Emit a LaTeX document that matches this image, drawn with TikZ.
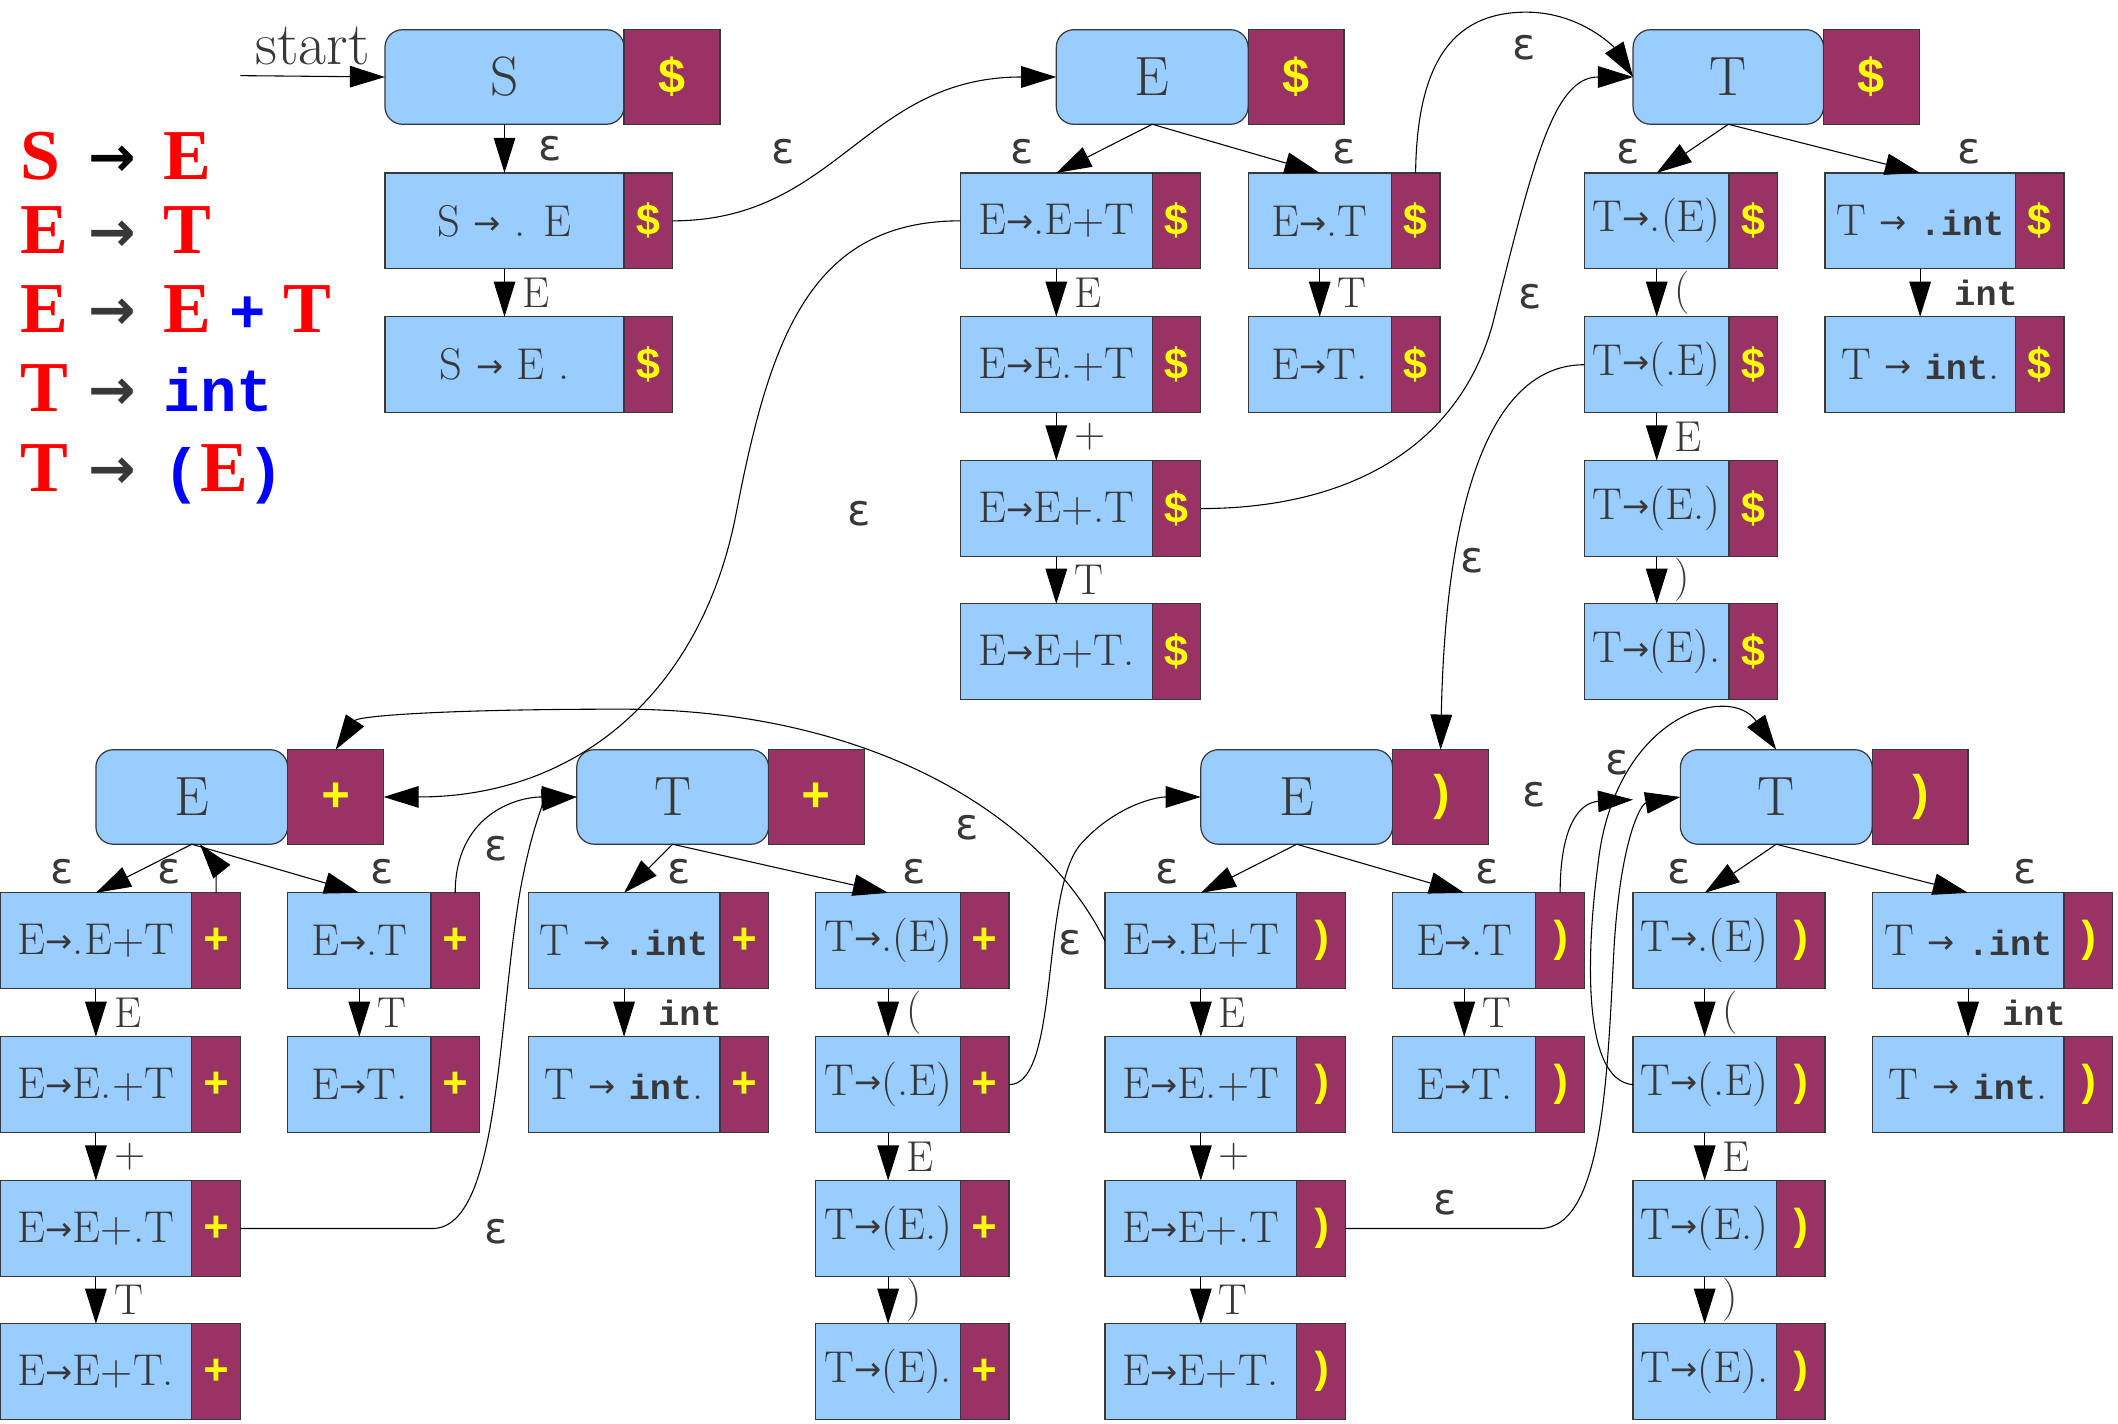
\documentclass[tikz,border=0pt]{standalone}
\usepackage{fontspec}
\usetikzlibrary{arrows.meta}
\newfontfamily\sansfam{DejaVu Sans}
\newfontfamily\monofam{Liberation Mono}
\newfontfamily\gramfam{Liberation Serif}
\definecolor{itemblue}{HTML}{99CCFF}
\definecolor{lamaroon}{HTML}{993366}
\definecolor{layellow}{HTML}{FFFF00}
\definecolor{txt}{HTML}{383838}
\definecolor{gred}{HTML}{FF0000}
\definecolor{gblue}{HTML}{0000FF}
\newcommand\itemfont{\fontsize{33}{38}\selectfont}
\newcommand\statefont{\fontsize{41}{46}\selectfont}
\newcommand\lafont{\monofam\bfseries\fontsize{32}{36}\selectfont}
\newcommand\lblfont{\fontsize{32}{36}\selectfont}
\newcommand\epsfont{\sansfam\fontsize{32}{36}\selectfont}
\newcommand\arw{\raisebox{1.5pt}{\sansfam\fontsize{24}{24}\selectfont →}}
\newcommand\kw[1]{{\monofam\bfseries\fontsize{26}{28}\selectfont #1}}
\newcommand\lhs[1]{\makebox[50pt][l]{\color{gred}#1}}
\newcommand\garrow[1][txt]{\makebox[56pt][l]{\color{#1}\sansfam\bfseries\fontsize{42}{42}\selectfont\raisebox{2pt}{→}}}
\newcommand\gmono[1]{{\color{gblue}\monofam\fontsize{45}{50}\selectfont #1}}
% item box + lookahead box
\newcommand\lritem[5]{%
  \node[itm, minimum width=#3pt] (#1) at (#2) {#4};
  \node[la] (#1x) at (#1.east) {#5};}
\newcommand\lrstate[5]{%
  \node[st, minimum width=#3pt] (#1) at (#2) {#4};
  \node[stla] (#1x) at (#1.east) {#5};}
% shift of the dot
\newcommand\trn[4][12pt]{%
  \draw[arr] (#2.south) -- (#3.north) node[lbl, midway, right=#1] (#3l) {#4};}

\begin{document}
\begin{tikzpicture}[
              x = 1pt, y = -1pt,
              itm/.style = {draw=txt, line width=0.9pt, fill=itemblue, minimum height=71pt,
                            inner sep=0pt, outer sep=0pt, text=txt, font=\itemfont},
              la/.style = {draw=txt, line width=0.9pt, fill=lamaroon, minimum height=71pt,
                           minimum width=36pt, inner sep=0pt, outer sep=0pt,
                           text=layellow, font=\lafont, anchor=west},
              st/.style = {itm, rounded corners=13pt, minimum height=70pt, font=\statefont},
              stla/.style = {la, minimum width=71pt, minimum height=70pt,
                             font=\monofam\bfseries\fontsize{36}{40}\selectfont},
              arr/.style = {-{Triangle[length=26pt,width=16pt]}, line width=0.8pt},
              lbl/.style = {font=\lblfont, text=txt, inner sep=1pt},
              eps/.style = {font=\epsfont, text=txt, inner sep=1pt},
              gram/.style = {anchor=base west, inner sep=0pt, font=\gramfam\bfseries\fontsize{53}{60}\selectfont}
            ]
\useasboundingbox (0,0) rectangle (1568,1054);

% grammar
\node[gram] (g1) at (15,133) {\lhs{S}\garrow[black]{\color{gred}E}};
\node[gram] (g2) at (15,188) {\lhs{E}\garrow{\color{gred}T}};
\node[gram] (g3) at (15,246) {\lhs{E}\garrow{\color{gred}E}\hspace{13pt}\gmono{+}\hspace{13pt}{\color{gred}T}};
\node[gram] (g4) at (15,305) {\lhs{T}\garrow\gmono{int}};
\node[gram] (g5) at (15,364) {\lhs{T}\garrow\gmono{(}{\color{gred}E}\gmono{)}};

% states with lookahead $
\coordinate (start) at (178,56);
\node[font=\fontsize{45}{50}\selectfont, text=txt, anchor=base west, inner sep=0pt] (startlbl) at (189,48) {start};
\lrstate{S0}{373.5,57}{177}{S}{\$}
\lritem{s1}{373.5,163.5}{177}{S \arw{} . E}{\$}
\lritem{s2}{373.5,270}{177}{S \arw{} E .}{\$}

\lrstate{E0}{853,57}{142}{E}{\$}
\lritem{a1}{782,163.5}{142}{E\arw.E+T}{\$}
\lritem{a2}{782,270}{142}{E\arw{}E.+T}{\$}
\lritem{a3}{782,376.5}{142}{E\arw{}E+.T}{\$}
\lritem{a4}{782,482.5}{142}{E\arw{}E+T.}{\$}
\lritem{b1}{977,163.5}{106}{E\arw.T}{\$}
\lritem{b2}{977,270}{106}{E\arw{}T.}{\$}

\lrstate{T0}{1279.5,57}{141}{T}{\$}
\lritem{c1}{1226.5,163.5}{107}{T\arw.(E)}{\$}
\lritem{c2}{1226.5,270}{107}{T\arw(.E)}{\$}
\lritem{c3}{1226.5,376.5}{107}{T\arw(E.)}{\$}
\lritem{c4}{1226.5,482.5}{107}{T\arw(E).}{\$}
\lritem{d1}{1421.5,163.5}{141}{T \arw{} \kw{.int}}{\$}
\lritem{d2}{1421.5,270}{141}{T \arw{} \kw{int}.}{\$}

% states with lookahead +
\lrstate{Ep}{142,590}{142}{E}{+}
\lritem{pa1}{71,696.5}{142}{E\arw.E+T}{+}
\lritem{pa2}{71,803}{142}{E\arw{}E.+T}{+}
\lritem{pa3}{71,909.5}{142}{E\arw{}E+.T}{+}
\lritem{pa4}{71,1015.5}{142}{E\arw{}E+T.}{+}
\lritem{pb1}{266,696.5}{106}{E\arw.T}{+}
\lritem{pb2}{266,803}{106}{E\arw{}T.}{+}

\lrstate{Tp}{498,590}{142}{T}{+}
\lritem{pd1}{462,696.5}{142}{T \arw{} \kw{.int}}{+}
\lritem{pd2}{462,803}{142}{T \arw{} \kw{int}.}{+}
\lritem{pc1}{657.5,696.5}{107}{T\arw.(E)}{+}
\lritem{pc2}{657.5,803}{107}{T\arw(.E)}{+}
\lritem{pc3}{657.5,909.5}{107}{T\arw(E.)}{+}
\lritem{pc4}{657.5,1015.5}{107}{T\arw(E).}{+}

% states with lookahead )
\lrstate{Er}{960,590}{142}{E}{)}
\lritem{ra1}{889,696.5}{142}{E\arw.E+T}{)}
\lritem{ra2}{889,803}{142}{E\arw{}E.+T}{)}
\lritem{ra3}{889,909.5}{142}{E\arw{}E+.T}{)}
\lritem{ra4}{889,1015.5}{142}{E\arw{}E+T.}{)}
\lritem{rb1}{1084,696.5}{106}{E\arw.T}{)}
\lritem{rb2}{1084,803}{106}{E\arw{}T.}{)}

\lrstate{Tr}{1315,590}{142}{T}{)}
\lritem{rc1}{1262,696.5}{106}{T\arw.(E)}{)}
\lritem{rc2}{1262,803}{106}{T\arw(.E)}{)}
\lritem{rc3}{1262,909.5}{106}{T\arw(E.)}{)}
\lritem{rc4}{1262,1015.5}{106}{T\arw(E).}{)}
\lritem{rd1}{1457,696.5}{142}{T \arw{} \kw{.int}}{)}
\lritem{rd2}{1457,803}{142}{T \arw{} \kw{int}.}{)}

% top part
\draw[arr] (start) -- (S0.west);
\draw[arr] (S0.south) -- (s1.north) node[eps, midway, right=24pt] (s1l) {ε};
\trn{s1}{s2}{E}
\draw[arr] (s1x.east) .. controls (620,163.5) and (640,57) .. (E0.west)
  node[eps] (e1) at (580,112) {ε};
\draw[arr] (E0.south) -- (a1.north) node[eps] (e2) at (757,112) {ε};
\draw[arr] (E0.south) -- (b1.north) node[eps] (e3) at (995,112) {ε};
\trn{a1}{a2}{E}
\trn{a2}{a3}{+}
\trn{a3}{a4}{T}
\trn{b1}{b2}{T}
\draw[arr] (b1x.north) .. controls (1049,40) and (1080,9) .. (1130,9)
  .. controls (1170,9) and (1195,35) .. (T0.west) node[eps] (e4) at (1128,35) {ε};
\draw[arr] (a3x.east) .. controls (1000,376.5) and (1080,330) .. (1105,240)
  .. controls (1135,120) and (1150,57) .. (T0.west) node[eps] (e5) at (1133,220) {ε};
\draw[arr] (a1.west) .. controls (600,163.5) and (570,250) .. (545,380)
  .. controls (520,510) and (430,590) .. (Epx.east) node[eps] (e6) at (636,380) {ε};
\draw[arr] (T0.south) -- (c1.north) node[eps] (e7) at (1205,112) {ε};
\draw[arr] (T0.south) -- (d1.north) node[eps] (e8) at (1458,112) {ε};
\trn{c1}{c2}{(}
\trn{c2}{c3}{E}
\trn{c3}{c4}{)}
\trn[24pt]{d1}{d2}{\kw{int}}
\draw[arr] (c2.west) .. controls (1100,270) and (1070,380) .. (Erx.north)
  node[eps] (e9) at (1090,415) {ε};

% bottom part, lookahead +
\draw[arr] (Ep.south) -- (pa1.north) node[eps] (e10) at (46,645) {ε};
\draw[arr] (pa1x.north) .. controls (160,640) .. ([xshift=6pt]Ep.south)
  node[eps] (e11) at (125,645) {ε};
\draw[arr] (Ep.south) -- (pb1.north) node[eps] (e12) at (283,645) {ε};
\trn{pa1}{pa2}{E}
\trn{pa2}{pa3}{+}
\trn{pa3}{pa4}{T}
\trn{pb1}{pb2}{T}
\draw[arr] (pb1x.north) .. controls (337,605) and (380,590) .. (Tp.west)
  node[eps] (e13) at (367,628) {ε};
\draw[arr] (pa3x.east) -- (320,909.5) .. controls (370,909.5) and (368,760) .. (385,660)
  .. controls (395,605) and (405,592) .. (Tp.west) node[eps] (e14) at (367,912) {ε};
\draw[arr] (Tp.south) -- (pd1.north) node[eps] (e15) at (503,645) {ε};
\draw[arr] (Tp.south) -- (pc1.north) node[eps] (e16) at (677,645) {ε};
\trn[24pt]{pd1}{pd2}{\kw{int}}
\trn{pc1}{pc2}{(}
\trn{pc2}{pc3}{E}
\trn{pc3}{pc4}{)}
\draw[arr] (pc2x.east) .. controls (785,803) and (770,660) .. (800,625)
  .. controls (825,597) and (855,590) .. (Er.west) node[eps] (e17) at (792,698) {ε};

% bottom part, lookahead )
\draw[arr] (ra1.west) .. controls (770,600) and (640,525) .. (460,525)
  .. controls (330,525) and (265,530) .. (Epx.north) node[eps] (e18) at (716,613) {ε};
\draw[arr] (Er.south) -- (ra1.north) node[eps] (e19) at (864,645) {ε};
\draw[arr] (Er.south) -- (rb1.north) node[eps] (e20) at (1101,645) {ε};
\trn{ra1}{ra2}{E}
\trn{ra2}{ra3}{+}
\trn{ra3}{ra4}{T}
\trn{rb1}{rb2}{T}
\coordinate (trin) at (1209,592);
\draw[arr] (rb1x.north) .. controls (1155,610) and (1170,594) .. (trin)
  node[eps] (e21) at (1136,588) {ε};
\draw[arr] (ra3x.east) -- (1140,909.5) .. controls (1188,909.5) and (1190,790) .. (1195,700)
  .. controls (1200,620) and (1215,595) .. (Tr.west) node[eps] (e22) at (1070,890) {ε};
\draw[arr] (rc2.west) .. controls (1170,800) and (1175,700) .. (1183,640)
  .. controls (1195,530) and (1280,505) .. (Tr.north) node[eps] (e23) at (1197,565) {ε};
\draw[arr] (Tr.south) -- (rc1.north) node[eps] (e24) at (1243,645) {ε};
\draw[arr] (Tr.south) -- (rd1.north) node[eps] (e25) at (1499,645) {ε};
\trn{rc1}{rc2}{(}
\trn{rc2}{rc3}{E}
\trn{rc3}{rc4}{)}
\trn[24pt]{rd1}{rd2}{\kw{int}}
\end{tikzpicture}
\end{document}
